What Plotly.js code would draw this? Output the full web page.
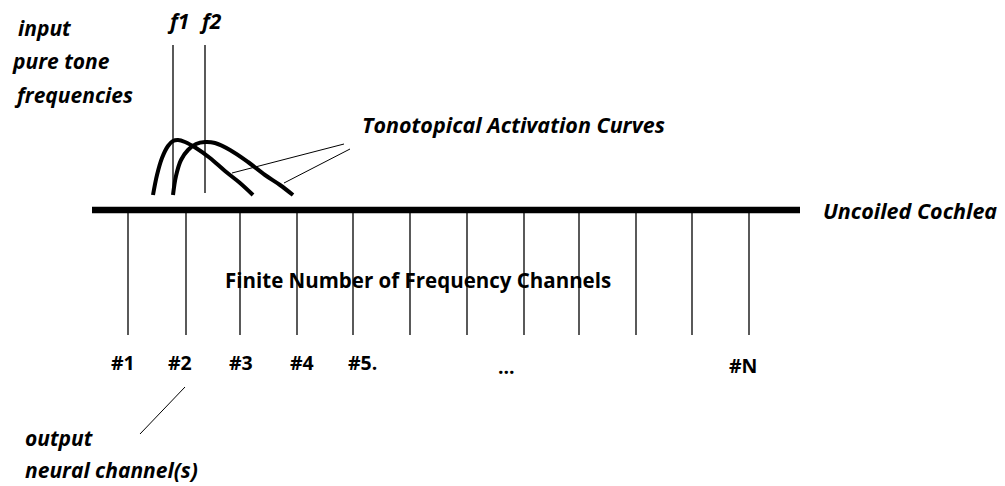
<!DOCTYPE html>
<html>
<head>
<meta charset="utf-8">
<script src="https://cdn.plot.ly/plotly-3.0.1.min.js"></script>
<style>
  html, body { margin: 0; padding: 0; background: #fff; }
  #graphDiv { width: 1005px; height: 486px; }
</style>
</head>
<body>
<div id="graphDiv"></div>
<script>
// cochlea baseline and channel lines (page pixel coords, y down)
const cochleaX = [92, 800];
const cochleaY = [210, 210];
const channelX = [128, 186, 240, 297, 353, 410, 467, 524, 579, 636, 692, 749];
const channelTop = 212;
const channelBottom = 335;

// channel labels
const channelLabels = ["#1", "#2", "#3", "#4", "#5.", "...", "#N"];
const channelLabelX = [123, 180, 241, 302, 362, 506, 743];
const channelLabelY = [362, 362, 362, 362, 362, 366, 365];

// input tone lines f1, f2
const toneNames = ["f1", "f2"];
const toneX = [173, 205];
const toneTop = 45;
const toneBottom = 193;

// activation curves
const curve1X = [153, 157, 162, 168, 173, 178, 185, 196, 210, 225, 240, 253];
const curve1Y = [195, 175, 158, 146, 141, 140, 142, 148, 158, 171, 183, 195];
const curve2X = [173, 176, 181, 188, 196, 205, 215, 230, 248, 265, 280, 293];
const curve2Y = [195, 176, 160, 150, 144, 142, 143, 150, 162, 175, 185, 195];

// pointer lines
const pointerA = { x: [232, 344], y: [173, 144] };
const pointerB = { x: [284, 350], y: [183, 149] };
const pointerC = { x: [185, 140], y: [387, 434] };

const traces = [];
const line = (x, y, w) => ({ x, y, mode: "lines", line: { color: "#000", width: w }, hoverinfo: "skip", showlegend: false });

channelX.forEach((cx) => traces.push(line([cx, cx], [channelTop, channelBottom], 1.3)));
toneX.forEach((tx) => traces.push(line([tx, tx], [toneTop, toneBottom], 1.3)));
traces.push(line(pointerA.x, pointerA.y, 1));
traces.push(line(pointerB.x, pointerB.y, 1));
traces.push(line(pointerC.x, pointerC.y, 1));
const c1 = line(curve1X, curve1Y, 4); c1.line.shape = "spline";
const c2 = line(curve2X, curve2Y, 4); c2.line.shape = "spline";
traces.push(c1, c2);
traces.push(line(cochleaX, cochleaY, 6.5));

const fam = "Open Sans, DejaVu Sans, sans-serif";
const txt = (text, x, y, anchor, size, italic) => ({
    text, x, y, xref: "x", yref: "y", showarrow: false, xanchor: anchor, yanchor: "middle",
    font: { family: fam, size, color: "#000", weight: "bold", style: italic ? "italic" : "normal" },
});

const annotations = [
    txt("input", 16, 28, "left", 21, true),
    txt("pure tone", 10, 61, "left", 21, true),
    txt("frequencies", 12, 95, "left", 21, true),
    txt("Tonotopical Activation Curves", 360, 124, "left", 21.5, true),
    txt("Uncoiled Cochlea", 821, 210, "left", 21.5, true),
    txt("Finite Number of Frequency Channels", 223, 280, "left", 20.5, false),
    txt("output", 23, 438, "left", 21, true),
    txt("neural channel(s)", 23, 470, "left", 21, true),
];
toneNames.forEach((n, i) => annotations.push(txt(n, toneX[i] + 5, 21, "center", 21, true)));
channelLabels.forEach((l, i) => annotations.push(txt(l, channelLabelX[i], channelLabelY[i], "center", 19.5, false)));

const layout = {
    width: 1005, height: 486,
    margin: { l: 0, r: 0, t: 0, b: 0 },
    paper_bgcolor: "#fff", plot_bgcolor: "#fff",
    xaxis: { range: [0, 1005], visible: false, fixedrange: true },
    yaxis: { range: [486, 0], visible: false, fixedrange: true },
    annotations,
    showlegend: false,
};

Plotly.newPlot("graphDiv", traces, layout, { staticPlot: true });
</script>
</body>
</html>
